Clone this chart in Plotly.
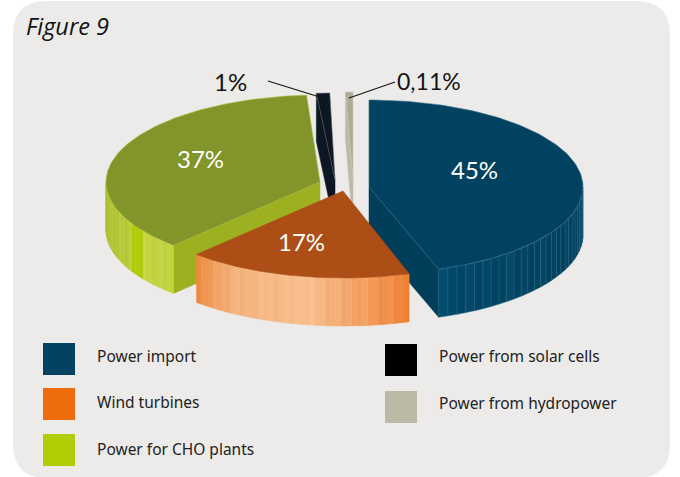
import math
import plotly.graph_objects as go

# ---- data ----
categories = ["Power import", "Wind turbines", "Power for CHO plants",
              "Power from solar cells", "Power from hydropower"]
shares = [45, 17, 37, 1, 0.11]
share_labels = ["45%", "17%", "37%", "1%", "0,11%"]
figure_title = "Figure 9"

# ---- styles / geometry ----
W, H = 680, 477
RX, RY, DEPTH = 214, 87, 48
apex = [(369, 187), (343, 191), (320, 182), (335, 180), (353, 179)]
angle_shift = [0, 0, 0, -1.4, 0]
end_trim = [-1.0, 0, 0, 0, 0]
min_sweep = [0, 0, 0, 0, 2.0]
top_col = ["#00425F", "#AC4E15", "#82952A", "#0D1722", "#AEAC96"]
cut_col = ["#003E5A", "#AC4E15", "#9DB01F", "#0D1722", "#BDBBA8"]
edge_col = ["#2F6F8C", "#AC4E15", "#A9BC3E", "#55606C", "#C9C7B6"]
wall_stops = [
    [(0, "#003F5A"), (.55, "#00425F"), (.9, "#004566"), (1, "#004C6E")],
    [(0, "#EE7F30"), (.18, "#F39A58"), (.45, "#F9BE8C"), (.8, "#F6B27A"), (1, "#EF8A3F")],
    [(0, "#C2D53D"), (.27, "#C2D43C"), (.28, "#B2CC06"), (.38, "#B2CC06"), (.39, "#B9CE33"), (1, "#A8BC2A")],
]
wall_step = [2.6, 1.4, 1.4]
legend_col = ["#00425F", "#EE6C0B", "#B2CC06", "#000000", "#BDB9A7"]
legend_pos = [(43, 343), (43, 388), (43, 434), (385, 344), (385, 391)]
legend_text_y = [356, 402, 449, 356, 403]
label_pos = [(474, 169), (301, 241), (200, 158), (230, 81), (429, 81)]
label_size = [24, 24, 24, 24, 23]
label_col = ["#FFFFFF", "#FFFFFF", "#FFFFFF", "#141414", "#141414"]
leaders = [((268, 81), (326, 99)), ((395, 82), (349, 98))]
PANEL = "#ECEBE9"
pattern = [0, .05, -.02, .09, .01, -.03, .06, .0, .12, -.01]


def hex2rgb(c):
    return [int(c[i:i + 2], 16) for i in (1, 3, 5)]


def ramp(stops, t, mod):
    for (t0, c0), (t1, c1) in zip(stops, stops[1:]):
        if t <= t1:
            f = (t - t0) / (t1 - t0)
            rgb = [a + (b - a) * f for a, b in zip(hex2rgb(c0), hex2rgb(c1))]
            break
    else:
        rgb = hex2rgb(stops[-1][1])
    rgb = [v + (255 - v) * mod if mod > 0 else v * (1 + mod) for v in rgb]
    return "rgb(%d,%d,%d)" % tuple(rgb)


def pt(c, a, dz=0):
    r = math.radians(a)
    return c[0] + RX * math.sin(r), c[1] - RY * math.cos(r) + dz


def poly(fig, pts, fill, line=None, lw=0.5):
    fig.add_trace(go.Scatter(
        x=[p[0] for p in pts] + [pts[0][0]], y=[p[1] for p in pts] + [pts[0][1]],
        mode="lines", fill="toself", fillcolor=fill,
        line=dict(color=line or fill, width=lw), hoverinfo="skip", showlegend=False))


def arc(c, a0, a1, dz=0, n=50):
    return [pt(c, a0 + (a1 - a0) * i / n, dz) for i in range(n + 1)]


fig = go.Figure()

# slice angles come from the shares
spans = []
cum = 0
for s, shift, trim, ms in zip(shares, angle_shift, end_trim, min_sweep):
    sweep = max(s * 3.6, ms)
    a0 = cum * 3.6 + shift
    spans.append((a0, a0 + sweep + trim))
    cum += s
spans[4] = (360 - max(shares[4] * 3.6, min_sweep[4]), 360)


def draw(i):
    c, (a0, a1) = apex[i], spans[i]
    cb = (c[0], c[1] + DEPTH)
    # cut faces (visible: the one facing the viewer)
    if i == 0:
        p = pt(c, a1)
        poly(fig, [c, p, (p[0], p[1] + DEPTH), cb], cut_col[i])
    if i in (2, 3, 4):
        p = pt(c, a0)
        poly(fig, [c, p, (p[0], p[1] + DEPTH), cb], cut_col[i])
    # outer wall as fine strips
    lo, hi = max(a0, 90), min(a1, 270)
    if i < 3 and hi > lo:
        n = int((hi - lo) / wall_step[i])
        for k in range(n):
            b0 = lo + (hi - lo) * k / n
            b1 = lo + (hi - lo) * (k + 1) / n
            col = ramp(wall_stops[i], (k + .5) / n, pattern[k % len(pattern)] * (0.25 if i == 0 else 0.6))
            top = arc(c, b0, b1, 0, 3)
            bot = arc(c, b1, b0, DEPTH, 3)
            poly(fig, top + bot, col, "#1F6180" if i == 0 else None, 0.5)
    # top face
    poly(fig, [c] + arc(c, a0, a1, 0, 120), top_col[i], edge_col[i], 0.6)


for i in (0, 4, 3, 2, 1):
    draw(i)

# leader lines
for (p0, p1) in leaders:
    fig.add_trace(go.Scatter(x=[p0[0], p1[0]], y=[p0[1], p1[1]], mode="lines",
                             line=dict(color="#141414", width=1.2),
                             hoverinfo="skip", showlegend=False))

# percent labels
anns = []
for t, (x, y), col, sz in zip(share_labels, label_pos, label_col, label_size):
    anns.append(dict(x=x, y=y, text=t, showarrow=False, xanchor="center", yanchor="middle",
                     font=dict(family="Lato, Noto Sans", size=sz, color=col)))

# legend
shapes = []
R = 34
L, T, RGT, B = 13, 1, 670, 478
shapes.append(dict(type="path", layer="below", line=dict(width=0), fillcolor=PANEL,
                   path=f"M{L + R},{T} L{RGT - R},{T} Q{RGT},{T} {RGT},{T + R} L{RGT},{B - R} "
                        f"Q{RGT},{B} {RGT - R},{B} L{L + R},{B} Q{L},{B} {L},{B - R} L{L},{T + R} Q{L},{T} {L + R},{T} Z"))
for name, (x, y), col, ty in zip(categories, legend_pos, legend_col, legend_text_y):
    shapes.append(dict(type="rect", x0=x, x1=x + 32, y0=y, y1=y + 32, fillcolor=col, line=dict(width=0)))
    anns.append(dict(x=x + 52, y=ty, text=name, showarrow=False, xanchor="left", yanchor="middle",
                     font=dict(family="Noto Sans", size=15.5, color="#222222")))

anns.append(dict(x=24, y=26, text=f"<i>{figure_title}</i>", showarrow=False, xanchor="left", yanchor="middle",
                 font=dict(family="Open Sans, Noto Sans", size=23.5, color="#111111")))

fig.update_layout(
    width=W, height=H, autosize=False, margin=dict(l=0, r=0, t=0, b=0),
    paper_bgcolor="white", plot_bgcolor="rgba(0,0,0,0)", showlegend=False,
    xaxis=dict(range=[0, W], visible=False, fixedrange=True),
    yaxis=dict(range=[H, 0], visible=False, fixedrange=True),
    shapes=shapes, annotations=anns,
)
fig.write_html("out.html", config=dict(displayModeBar=False),
               post_script="document.body.style.margin='0';document.body.style.overflow='hidden';")
